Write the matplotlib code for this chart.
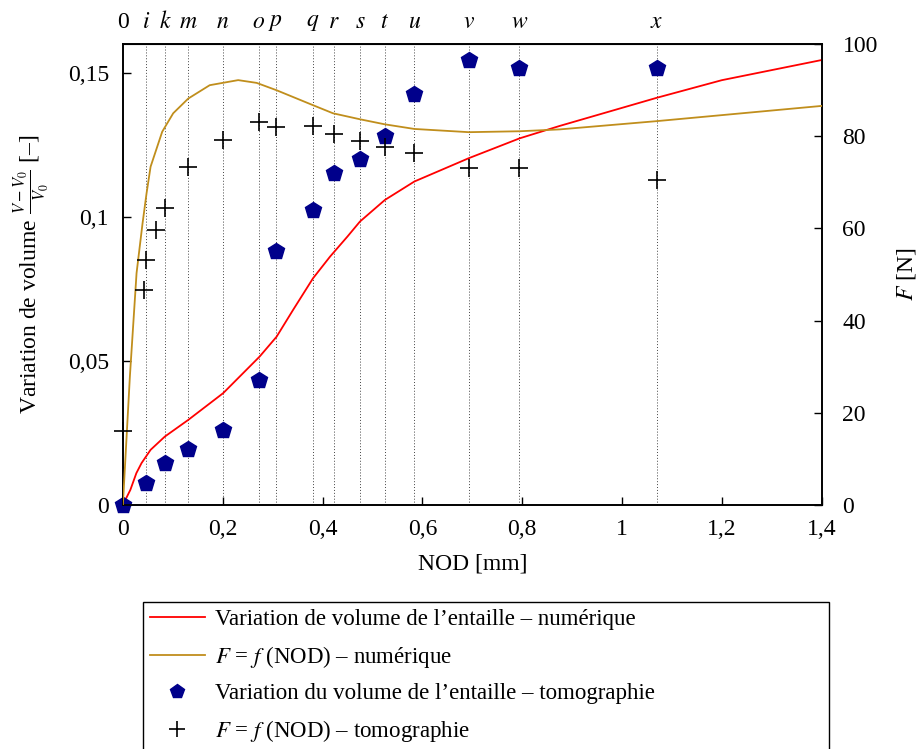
import matplotlib
matplotlib.use("Agg")
import matplotlib.pyplot as plt
from matplotlib.lines import Line2D

plt.rcParams['font.family'] = ['Liberation Serif', 'DejaVu Serif']
plt.rcParams['mathtext.fontset'] = 'stix'
plt.rcParams['font.size'] = 17

# courbes numeriques
nod_num_vol = [0, 0.015, 0.027, 0.0374, 0.0555, 0.084, 0.131, 0.201, 0.274, 0.308, 0.341,
               0.381, 0.415, 0.45, 0.475, 0.525, 0.584, 0.693, 0.795, 0.875, 1.07, 1.2, 1.4]
vol_num = [0, 0.0052, 0.011, 0.0145, 0.0191, 0.0237, 0.0295, 0.0388, 0.0515, 0.0584, 0.0677,
           0.0787, 0.0862, 0.0932, 0.0984, 0.1059, 0.1123, 0.1204, 0.1273, 0.1316, 0.1414, 0.1475, 0.1545]

nod_num_f = [0, 0.014, 0.0274, 0.0394, 0.0474, 0.0555, 0.0788, 0.1008, 0.131, 0.174, 0.231,
             0.268, 0.308, 0.38, 0.421, 0.475, 0.525, 0.584, 0.693, 0.795, 0.875, 1.07, 1.4]
f_num = [0, 27.8, 50.3, 61.1, 67.6, 73.4, 81.0, 85.0, 88.2, 91.1, 92.2,
         91.6, 90.0, 86.8, 85.0, 83.7, 82.6, 81.6, 80.9, 81.1, 81.5, 83.3, 86.6]

# tomographie
nod_tomo_vol = [0, 0.047, 0.085, 0.131, 0.2, 0.272, 0.306, 0.38, 0.422, 0.475, 0.525, 0.584, 0.693, 0.794, 1.07]
vol_tomo = [0, 0.0075, 0.0147, 0.0193, 0.026, 0.0432, 0.0882, 0.1024, 0.1152, 0.1201, 0.1282,
            0.1428, 0.1545, 0.1518, 0.1518]

nod_tomo_f = [0, 0.042, 0.047, 0.066, 0.085, 0.131, 0.2, 0.272, 0.306, 0.38, 0.422, 0.475,
              0.525, 0.584, 0.693, 0.794, 1.07]
f_tomo = [16.1, 46.6, 53.1, 59.7, 64.5, 73.4, 79.2, 83.1, 82.1, 82.3, 80.5, 79.0,
          77.7, 76.4, 73.2, 73.2, 70.5]

# etapes de tomographie (axe du haut)
etapes_pos = [0, 0.047, 0.085, 0.131, 0.2, 0.272, 0.306, 0.38, 0.422, 0.475, 0.525, 0.584, 0.693, 0.794, 1.07]
etapes_lab = ['0', '$i$', '$k$', '$m$', '$n$', '$o$', '$p$', '$q$', '$r$', '$s$', '$t$', '$u$', '$v$', '$w$', '$x$']

fig = plt.figure(figsize=(9.17, 7.49), dpi=100)
ax = fig.add_axes([0.134, 0.326, 0.762, 0.615])
ax2 = ax.twinx()

for xv in etapes_pos[1:]:
    ax.axvline(xv, color='#444444', linestyle=(0, (1, 2)), linewidth=0.7, zorder=0)

couleur_or = '#C08E1C'
ax.plot(nod_num_vol, vol_num, color='red', linewidth=1.3, zorder=3)
ax.plot(nod_tomo_vol, vol_tomo, linestyle='none', marker='p', markersize=12,
        color='#00008B', zorder=4, clip_on=False)
ax2.plot(nod_num_f, f_num, color=couleur_or, linewidth=1.3, zorder=3)
ax2.plot(nod_tomo_f, f_tomo, linestyle='none', marker='+', markersize=13,
         markeredgewidth=1.2, color='black', zorder=4, clip_on=False)

ax.set_xlim(0, 1.4)
ax.set_ylim(0, 0.16)
ax2.set_ylim(0, 100)

ax.set_xticks([0, 0.2, 0.4, 0.6, 0.8, 1.0, 1.2, 1.4])
ax.set_xticklabels(['0', '0,2', '0,4', '0,6', '0,8', '1', '1,2', '1,4'])
ax.set_yticks([0, 0.05, 0.1, 0.15])
ax.set_yticklabels(['0', '0,05', '0,1', '0,15'])
ax2.set_yticks([0, 20, 40, 60, 80, 100])

ax.tick_params(axis='x', direction='in', length=6, width=1, top=False, pad=10)
ax.tick_params(axis='y', direction='in', length=6, width=1, pad=10)
ax2.tick_params(direction='in', length=6, width=1, pad=15)

haut = ax.secondary_xaxis('top')
haut.set_xticks(etapes_pos)
haut.set_xticklabels(etapes_lab)
haut.tick_params(length=0, pad=8)

for a in (ax, ax2):
    for s in a.spines.values():
        s.set_linewidth(1.2)

ax.set_xlabel('NOD [mm]', labelpad=10)
ax.set_ylabel(r'Variation de volume $\frac{V-V_0}{V_0}$ [–]', labelpad=12)
ax2.set_ylabel('$F$ [N]', labelpad=12)

handles = [
    Line2D([], [], color='red', linewidth=1.3),
    Line2D([], [], color=couleur_or, linewidth=1.3),
    Line2D([], [], linestyle='none', marker='p', markersize=10, color='#00008B'),
    Line2D([], [], linestyle='none', marker='+', markersize=12, markeredgewidth=1.2, color='black'),
]
labels = [
    'Variation de volume de l’entaille – numérique',
    '$F$ = $f$ (NOD) – numérique',
    'Variation du volume de l’entaille – tomographie',
    '$F$ = $f$ (NOD) – tomographie',
]
leg = fig.legend(handles, labels, loc='upper left', mode='expand',
                 bbox_to_anchor=(143 / 917, 0.0, (829 - 143) / 917, 147 / 749),
                 fancybox=False, edgecolor='black', framealpha=1, borderpad=0.3,
                 handlelength=2.4, handletextpad=0.45, labelspacing=0.6,
                 borderaxespad=0, fontsize=16.5)
leg.get_frame().set_linewidth(1.0)

fig.savefig('out.png', dpi=100)
